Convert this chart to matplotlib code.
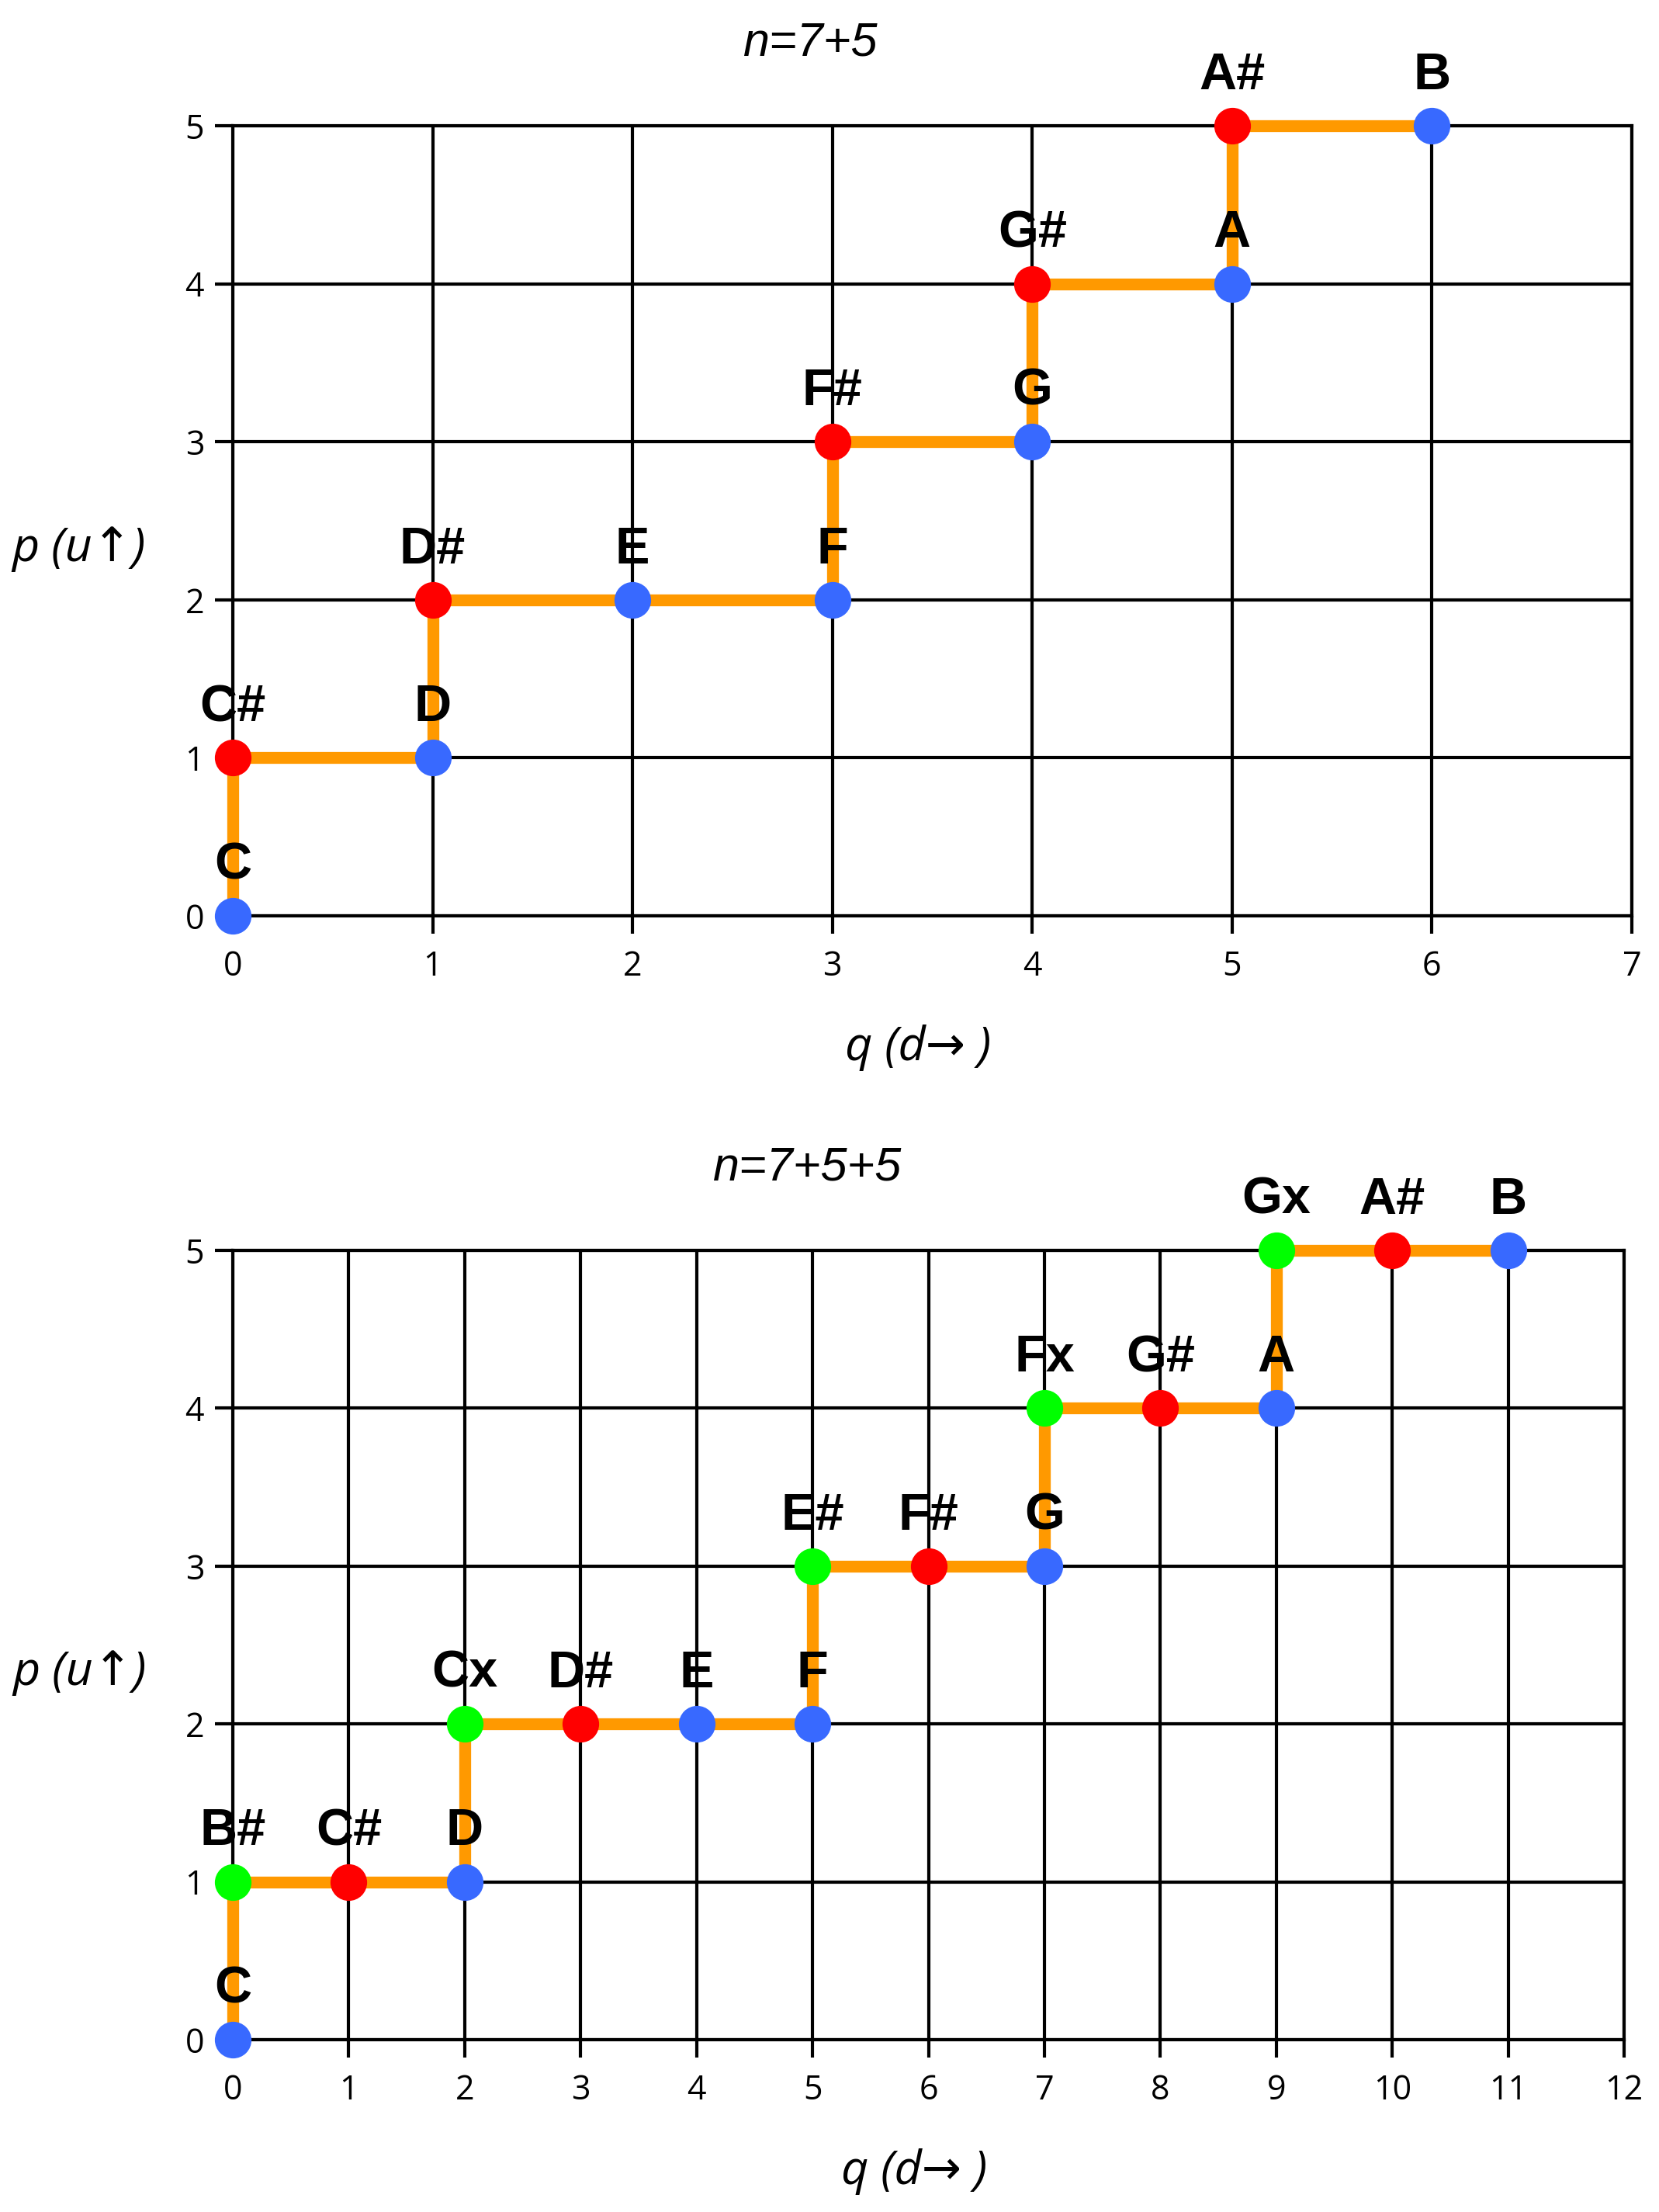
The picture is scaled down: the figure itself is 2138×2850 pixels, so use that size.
import matplotlib
matplotlib.use('Agg')
import matplotlib.pyplot as plt

# cores
BLUE = '#3869FF'
RED = '#FF0000'
GREEN = '#00FF00'
ORANGE = '#FF9900'

# n=7+5
top_notes = ['C', 'C#', 'D', 'D#', 'E', 'F', 'F#', 'G', 'G#', 'A', 'A#', 'B']
top_q = [0, 0, 1, 1, 2, 3, 3, 4, 4, 5, 5, 6]
top_p = [0, 1, 1, 2, 2, 2, 3, 3, 4, 4, 5, 5]
top_kind = ['n', 's', 'n', 's', 'n', 'n', 's', 'n', 's', 'n', 's', 'n']

# n=7+5+5
bot_notes = ['C', 'B#', 'C#', 'D', 'Cx', 'D#', 'E', 'F', 'E#', 'F#', 'G',
             'Fx', 'G#', 'A', 'Gx', 'A#', 'B']
bot_q = [0, 0, 1, 2, 2, 3, 4, 5, 5, 6, 7, 7, 8, 9, 9, 10, 11]
bot_p = [0, 1, 1, 1, 2, 2, 2, 2, 3, 3, 3, 4, 4, 4, 5, 5, 5]
bot_kind = ['n', 'x', 's', 'n', 'x', 's', 'n', 'n', 'x', 's', 'n',
            'x', 's', 'n', 'x', 's', 'n']

kind_color = {'n': BLUE, 's': RED, 'x': GREEN}

W, H, DPI = 2138, 2850, 100
LW = 3.0
LABEL_FONT = ['Open Sans', 'Noto Sans', 'DejaVu Sans']


def draw_panel(ax, notes, q, p, kind, xmax, title):
    ax.set_xlim(0, xmax)
    ax.set_ylim(0, 5)
    ax.set_xticks(range(0, xmax + 1))
    ax.set_yticks(range(0, 6))
    ax.grid(True, color='black', linewidth=LW)
    ax.set_axisbelow(True)
    for s in ax.spines.values():
        s.set_linewidth(LW)
        s.set_color('black')
    ax.tick_params(axis='both', direction='out', length=16.5, width=LW,
                   labelsize=31)
    ax.tick_params(axis='x', pad=15)
    ax.tick_params(axis='y', pad=10)
    for lab in ax.get_xticklabels() + ax.get_yticklabels():
        lab.set_family('Open Sans')

    # caminho laranja
    ax.plot(q, p, color=ORANGE, linewidth=11, solid_capstyle='butt',
            zorder=3, clip_on=False)
    # pontos
    for qi, pi, k in zip(q, p, kind):
        ax.plot(qi, pi, 'o', markersize=34, color=kind_color[k],
                markeredgewidth=0, zorder=4, clip_on=False)
    # rotulos das notas
    for name, qi, pi in zip(notes, q, p):
        ax.annotate(name, (qi, pi), xytext=(0, 34), textcoords='offset points',
                    ha='center', va='baseline', fontsize=48,
                    fontweight='bold', family='Liberation Sans',
                    zorder=5, annotation_clip=False)

    ax.set_xlabel('q (d→ )', fontsize=44, style='italic', family=LABEL_FONT,
                  va='center')
    ax.xaxis.set_label_coords(0.49, -0.167)
    ax.set_ylabel('p (u↑)', fontsize=44, style='italic', family=LABEL_FONT,
                  rotation=0, ha='center', va='center')
    ax.yaxis.set_label_coords(-0.11, 0.465)
    ax.text((1043 - 300) / 1800, 1.0 + (162 - 56) / 1018,
            title, transform=ax.transAxes, ha='center', va='center',
            fontsize=44, style='italic', family='Liberation Sans')


fig = plt.figure(figsize=(W / DPI, H / DPI), dpi=DPI)
ax1 = fig.add_axes([300 / W, 1 - 1180 / H, 1803 / W, 1018 / H])
ax2 = fig.add_axes([300 / W, 1 - 2628 / H, 1793 / W, 1017 / H])

draw_panel(ax1, top_notes, top_q, top_p, top_kind, 7, 'n=7+5')
draw_panel(ax2, bot_notes, bot_q, bot_p, bot_kind, 12, 'n=7+5+5')

fig.savefig('out.png', dpi=DPI, facecolor='white')
